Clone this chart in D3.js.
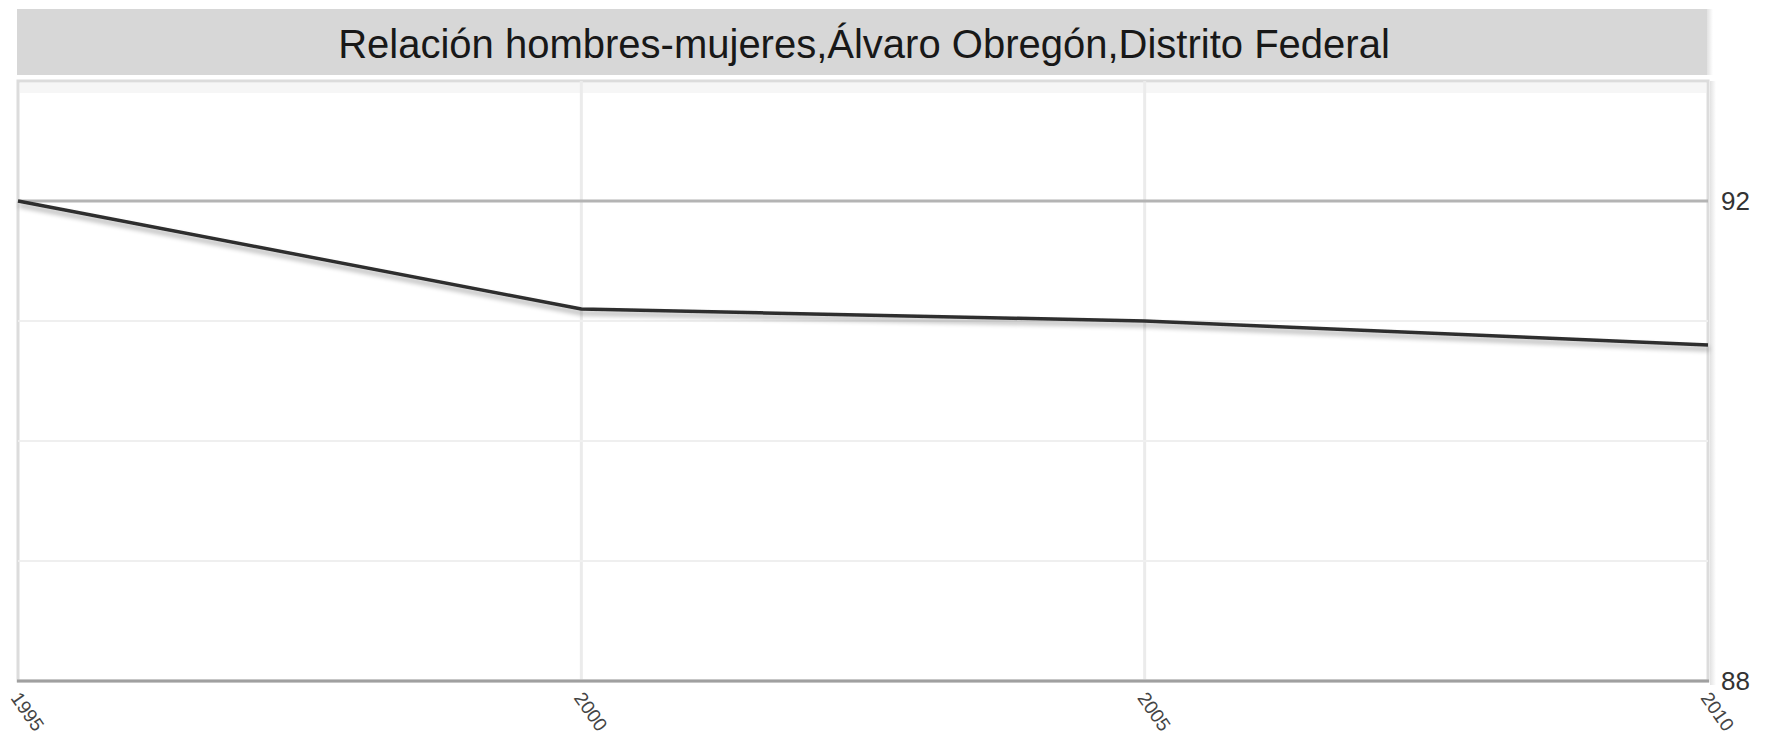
<!DOCTYPE html>
<html>
<head>
<meta charset="utf-8">
<script src="https://cdn.jsdelivr.net/npm/d3@7"></script>
<style>
  html, body { margin: 0; padding: 0; background: #ffffff; }
  svg { display: block; font-family: "Liberation Sans", Arial, sans-serif; }
</style>
</head>
<body>
<svg id="chart" width="1774" height="739"></svg>
<script>
// Relación hombres-mujeres (hombres por cada 100 mujeres) por año censal
const titleText = "Relación hombres-mujeres,Álvaro Obregón,Distrito Federal";
const years = [1995, 2000, 2005, 2010];
const ratios = [92.0, 91.1, 91.0, 90.8];
const yGridValues = [89, 90, 91, 92];
const yLabelValues = [92, 88];

const plot = { left: 18, right: 1708, top: 81, bottom: 681 };

const svg = d3.select("#chart");

const defs = svg.append("defs");
const shadow = defs.append("filter")
  .attr("id", "lineShadow")
  .attr("x", "-5%").attr("y", "-50%")
  .attr("width", "110%").attr("height", "200%");
shadow.append("feGaussianBlur").attr("in", "SourceAlpha").attr("stdDeviation", 2.5).attr("result", "blur");
shadow.append("feOffset").attr("in", "blur").attr("dx", 1).attr("dy", 4).attr("result", "off");
shadow.append("feComponentTransfer").attr("in", "off").attr("result", "soft")
  .append("feFuncA").attr("type", "linear").attr("slope", 0.35);
const merge = shadow.append("feMerge");
merge.append("feMergeNode").attr("in", "soft");
merge.append("feMergeNode").attr("in", "SourceGraphic");

const frameShadow = defs.append("linearGradient").attr("id", "rightShade")
  .attr("x1", "0").attr("x2", "1");
frameShadow.append("stop").attr("offset", "0").attr("stop-color", "#e2e2e2");
frameShadow.append("stop").attr("offset", "1").attr("stop-color", "#ffffff");

// Title bar
svg.append("rect")
  .attr("x", 17).attr("y", 9)
  .attr("width", 1690).attr("height", 66)
  .attr("fill", "#d7d7d7");
svg.append("rect")
  .attr("x", 1707).attr("y", 9)
  .attr("width", 6).attr("height", 66)
  .attr("fill", "url(#rightShade)");
svg.append("text")
  .attr("x", 864).attr("y", 44)
  .attr("text-anchor", "middle")
  .attr("dominant-baseline", "central")
  .attr("font-size", 40)
  .attr("fill", "#181818")
  .text(titleText);

// Scales
const x = d3.scaleLinear().domain([1995, 2010]).range([plot.left, plot.right]);
const y = d3.scaleLinear().domain([88, 93]).range([plot.bottom, plot.top]);

// Plot frame
svg.append("rect")
  .attr("x", plot.left).attr("y", plot.top)
  .attr("width", plot.right - plot.left).attr("height", plot.bottom - plot.top)
  .attr("fill", "#ffffff")
  .attr("stroke", "#dcdcdc").attr("stroke-width", 3);
svg.append("rect")
  .attr("x", plot.left + 2).attr("y", plot.top + 2)
  .attr("width", plot.right - plot.left - 4).attr("height", 10)
  .attr("fill", "#f6f6f6");
svg.append("rect")
  .attr("x", plot.right + 2).attr("y", plot.top)
  .attr("width", 6).attr("height", plot.bottom - plot.top + 4)
  .attr("fill", "url(#rightShade)");

// Vertical gridlines at each year
svg.append("g")
  .selectAll("line")
  .data(years.slice(1, -1))
  .join("line")
  .attr("x1", d => x(d)).attr("x2", d => x(d))
  .attr("y1", plot.top).attr("y2", plot.bottom)
  .attr("stroke", "#ebebeb").attr("stroke-width", 3);

// Horizontal gridlines
svg.append("g")
  .selectAll("line")
  .data(yGridValues)
  .join("line")
  .attr("x1", plot.left).attr("x2", plot.right)
  .attr("y1", d => y(d)).attr("y2", d => y(d))
  .attr("stroke", d => d === 92 ? "#b4b4b4" : "#efefef")
  .attr("stroke-width", d => d === 92 ? 3 : 2);

// Bottom axis line
svg.append("line")
  .attr("x1", plot.left - 1).attr("x2", plot.right + 1)
  .attr("y1", plot.bottom).attr("y2", plot.bottom)
  .attr("stroke", "#a0a0a0").attr("stroke-width", 3);

// Data line
const line = d3.line()
  .x((d, i) => x(years[i]))
  .y(d => y(d));
svg.append("path")
  .datum(ratios)
  .attr("d", line)
  .attr("fill", "none")
  .attr("stroke", "#2e2e2e")
  .attr("stroke-width", 3.5)
  .attr("stroke-linejoin", "round")
  .attr("filter", "url(#lineShadow)");

// Right-side value labels
const yAxis = d3.axisRight(y)
  .tickValues(yLabelValues)
  .tickFormat(d3.format("d"))
  .tickSize(0).tickPadding(0);
const yAxisG = svg.append("g")
  .attr("transform", `translate(${plot.right + 13},0)`)
  .call(yAxis);
yAxisG.select(".domain").remove();
yAxisG.selectAll("text")
  .attr("font-size", 26)
  .attr("font-family", "\"Liberation Sans\", Arial, sans-serif")
  .attr("fill", "#333");

// Rotated year labels under the axis
svg.append("g")
  .selectAll("text")
  .data(years)
  .join("text")
  .attr("transform", d => `translate(${x(d) - 8},${plot.bottom + 17}) rotate(55)`)
  .attr("text-anchor", "start")
  .attr("font-size", 19)
  .attr("fill", "#444")
  .text(d => d);
</script>
</body>
</html>
